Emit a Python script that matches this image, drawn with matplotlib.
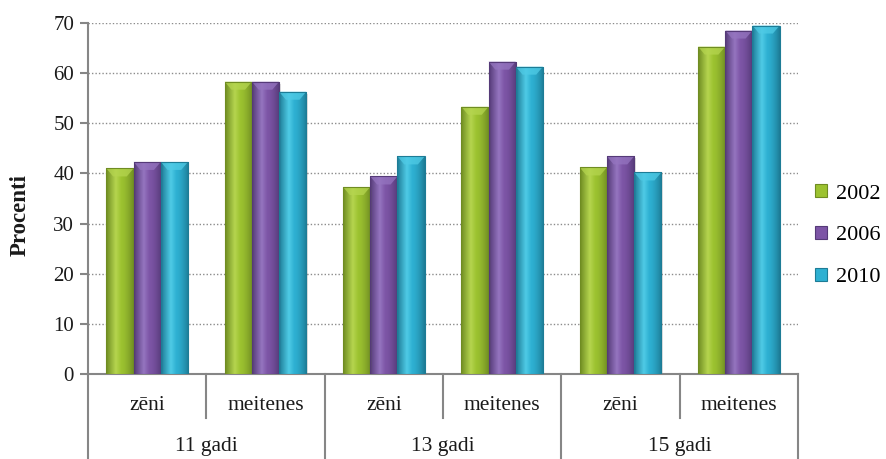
import numpy as np
import matplotlib
matplotlib.use("Agg")
import matplotlib.pyplot as plt
from matplotlib.colors import to_rgb
from matplotlib.patches import Rectangle, Polygon
import matplotlib.transforms as mtransforms

plt.rcParams['font.family'] = ['Liberation Serif', 'DejaVu Serif']

# Data
groups = ["11 gadi", "13 gadi", "15 gadi"]
subgroups = ["zēni", "meitenes"]
years = ["2002", "2006", "2010"]
v2002 = [41.0, 58.3, 37.3, 53.3, 41.2, 65.3]
v2006 = [42.3, 58.3, 39.4, 62.3, 43.4, 68.5]
v2010 = [42.3, 56.3, 43.4, 61.3, 40.2, 69.5]
yticks = [0, 10, 20, 30, 40, 50, 60, 70]

series = [v2002, v2006, v2010]
base_colors = ["#9cc230", "#7d55a6", "#2eb0d2"]
dark_colors = ["#6f8c22", "#553a78", "#1d7c96"]
light_colors = ["#b5d54f", "#9575c0", "#4fcbe6"]

fig = plt.figure(figsize=(8.87, 4.59), dpi=100)
ax = fig.add_axes([88/887, 1-374/459, (798-88)/887, (374-23)/459])

n_cat = len(v2002)
x = np.arange(n_cat)
bar_w = 0.23
offsets = [-bar_w, 0, bar_w]

ax.set_xlim(-0.5, n_cat - 0.5)
ax.set_ylim(0, 70)


def gradient_row(i):
    d = np.array(to_rgb(dark_colors[i]))
    b = np.array(to_rgb(base_colors[i]))
    l = np.array(to_rgb(light_colors[i]))
    t = np.linspace(0, 1, 64)
    prof = np.zeros((64, 3))
    for k, tt in enumerate(t):
        if tt < 0.35:
            f = tt / 0.35
            prof[k] = d * (1 - f) + l * f
        elif tt < 0.55:
            f = (tt - 0.35) / 0.2
            prof[k] = l * (1 - f) + b * f
        else:
            f = (tt - 0.55) / 0.45
            prof[k] = b * (1 - f**1.5) + d * f**1.5
    return prof[None, :, :]


for i, vals in enumerate(series):
    grad = gradient_row(i)
    bars = ax.bar(x + offsets[i], vals, width=bar_w, color=base_colors[i],
                  edgecolor="none", zorder=3, label=years[i])
    for rect in bars:
        x0 = rect.get_x()
        w = rect.get_width()
        h = rect.get_height()
        # soft drop shadow
        ax.add_patch(Rectangle((x0 + 0.012, -0.4), w, h, facecolor="#000000",
                               alpha=0.12, edgecolor="none", zorder=2))
        im = ax.imshow(grad, extent=(x0, x0 + w, 0, h), aspect="auto",
                       zorder=3.5, interpolation="bilinear")
        im.set_clip_path(rect)
        # bevelled top with a soft V highlight
        cap_h = 1.6
        ax.add_patch(Polygon([(x0, h), (x0 + w, h), (x0 + w * 0.75, h - cap_h),
                              (x0 + w * 0.25, h - cap_h)], closed=True,
                             facecolor=light_colors[i], alpha=0.75,
                             edgecolor="none", zorder=4))
        ax.add_patch(Rectangle((x0, 0), w, h, facecolor="none",
                               edgecolor=dark_colors[i], lw=0.8, zorder=4.2))

# Grid and axes
ax.set_yticks(yticks)
ax.yaxis.grid(True, color="#8c8c8c", linestyle=(0, (1, 1.5)), lw=1.0, zorder=0)
ax.set_axisbelow(True)
for s in ["top", "right"]:
    ax.spines[s].set_visible(False)
for s in ["left", "bottom"]:
    ax.spines[s].set_color("#868686")
    ax.spines[s].set_linewidth(1.5)
ax.tick_params(axis="y", length=6, width=1.5, color="#868686", pad=4,
               labelsize=15, labelcolor="#1a1a1a")
ax.set_xticks([])

# Two-level category axis
trans = mtransforms.blended_transform_factory(ax.transData, ax.transAxes)
axes_h = 374 - 23
inner_bottom = -(418 - 374) / axes_h
outer_bottom = -(459 - 374) / axes_h
sub_y = -(405 - 374) / axes_h
grp_y = -(447 - 374) / axes_h

for k in range(n_cat + 1):
    xb = k - 0.5
    ybot = outer_bottom if k % 2 == 0 else inner_bottom
    ax.plot([xb, xb], [0, ybot], transform=trans, color="#868686", lw=1.5,
            clip_on=False, zorder=5)

for k in range(n_cat):
    ax.text(k, sub_y, subgroups[k % 2], transform=trans, ha="center",
            va="center", fontsize=15.5, color="#1a1a1a")
for g in range(len(groups)):
    ax.text(2 * g + 0.5, grp_y, groups[g], transform=trans, ha="center",
            va="center", fontsize=15.5, color="#1a1a1a")

fig.text(20/887, 1 - 215/459, "Procenti", rotation=90, ha="center",
         va="center", fontsize=16.5, fontweight="bold", color="#1a1a1a")

# Legend
handles = [Rectangle((0, 0), 1, 1, facecolor=base_colors[i],
                     edgecolor=dark_colors[i], lw=0.8) for i in range(3)]
fig.legend(handles, years, loc="upper left",
           bbox_to_anchor=(815/887, 1 - 184/459), frameon=False,
           fontsize=16, handlelength=0.55, handleheight=0.55,
           handletextpad=0.4, labelspacing=1.0, borderaxespad=0,
           borderpad=0)

fig.savefig("out.png", dpi=100)
